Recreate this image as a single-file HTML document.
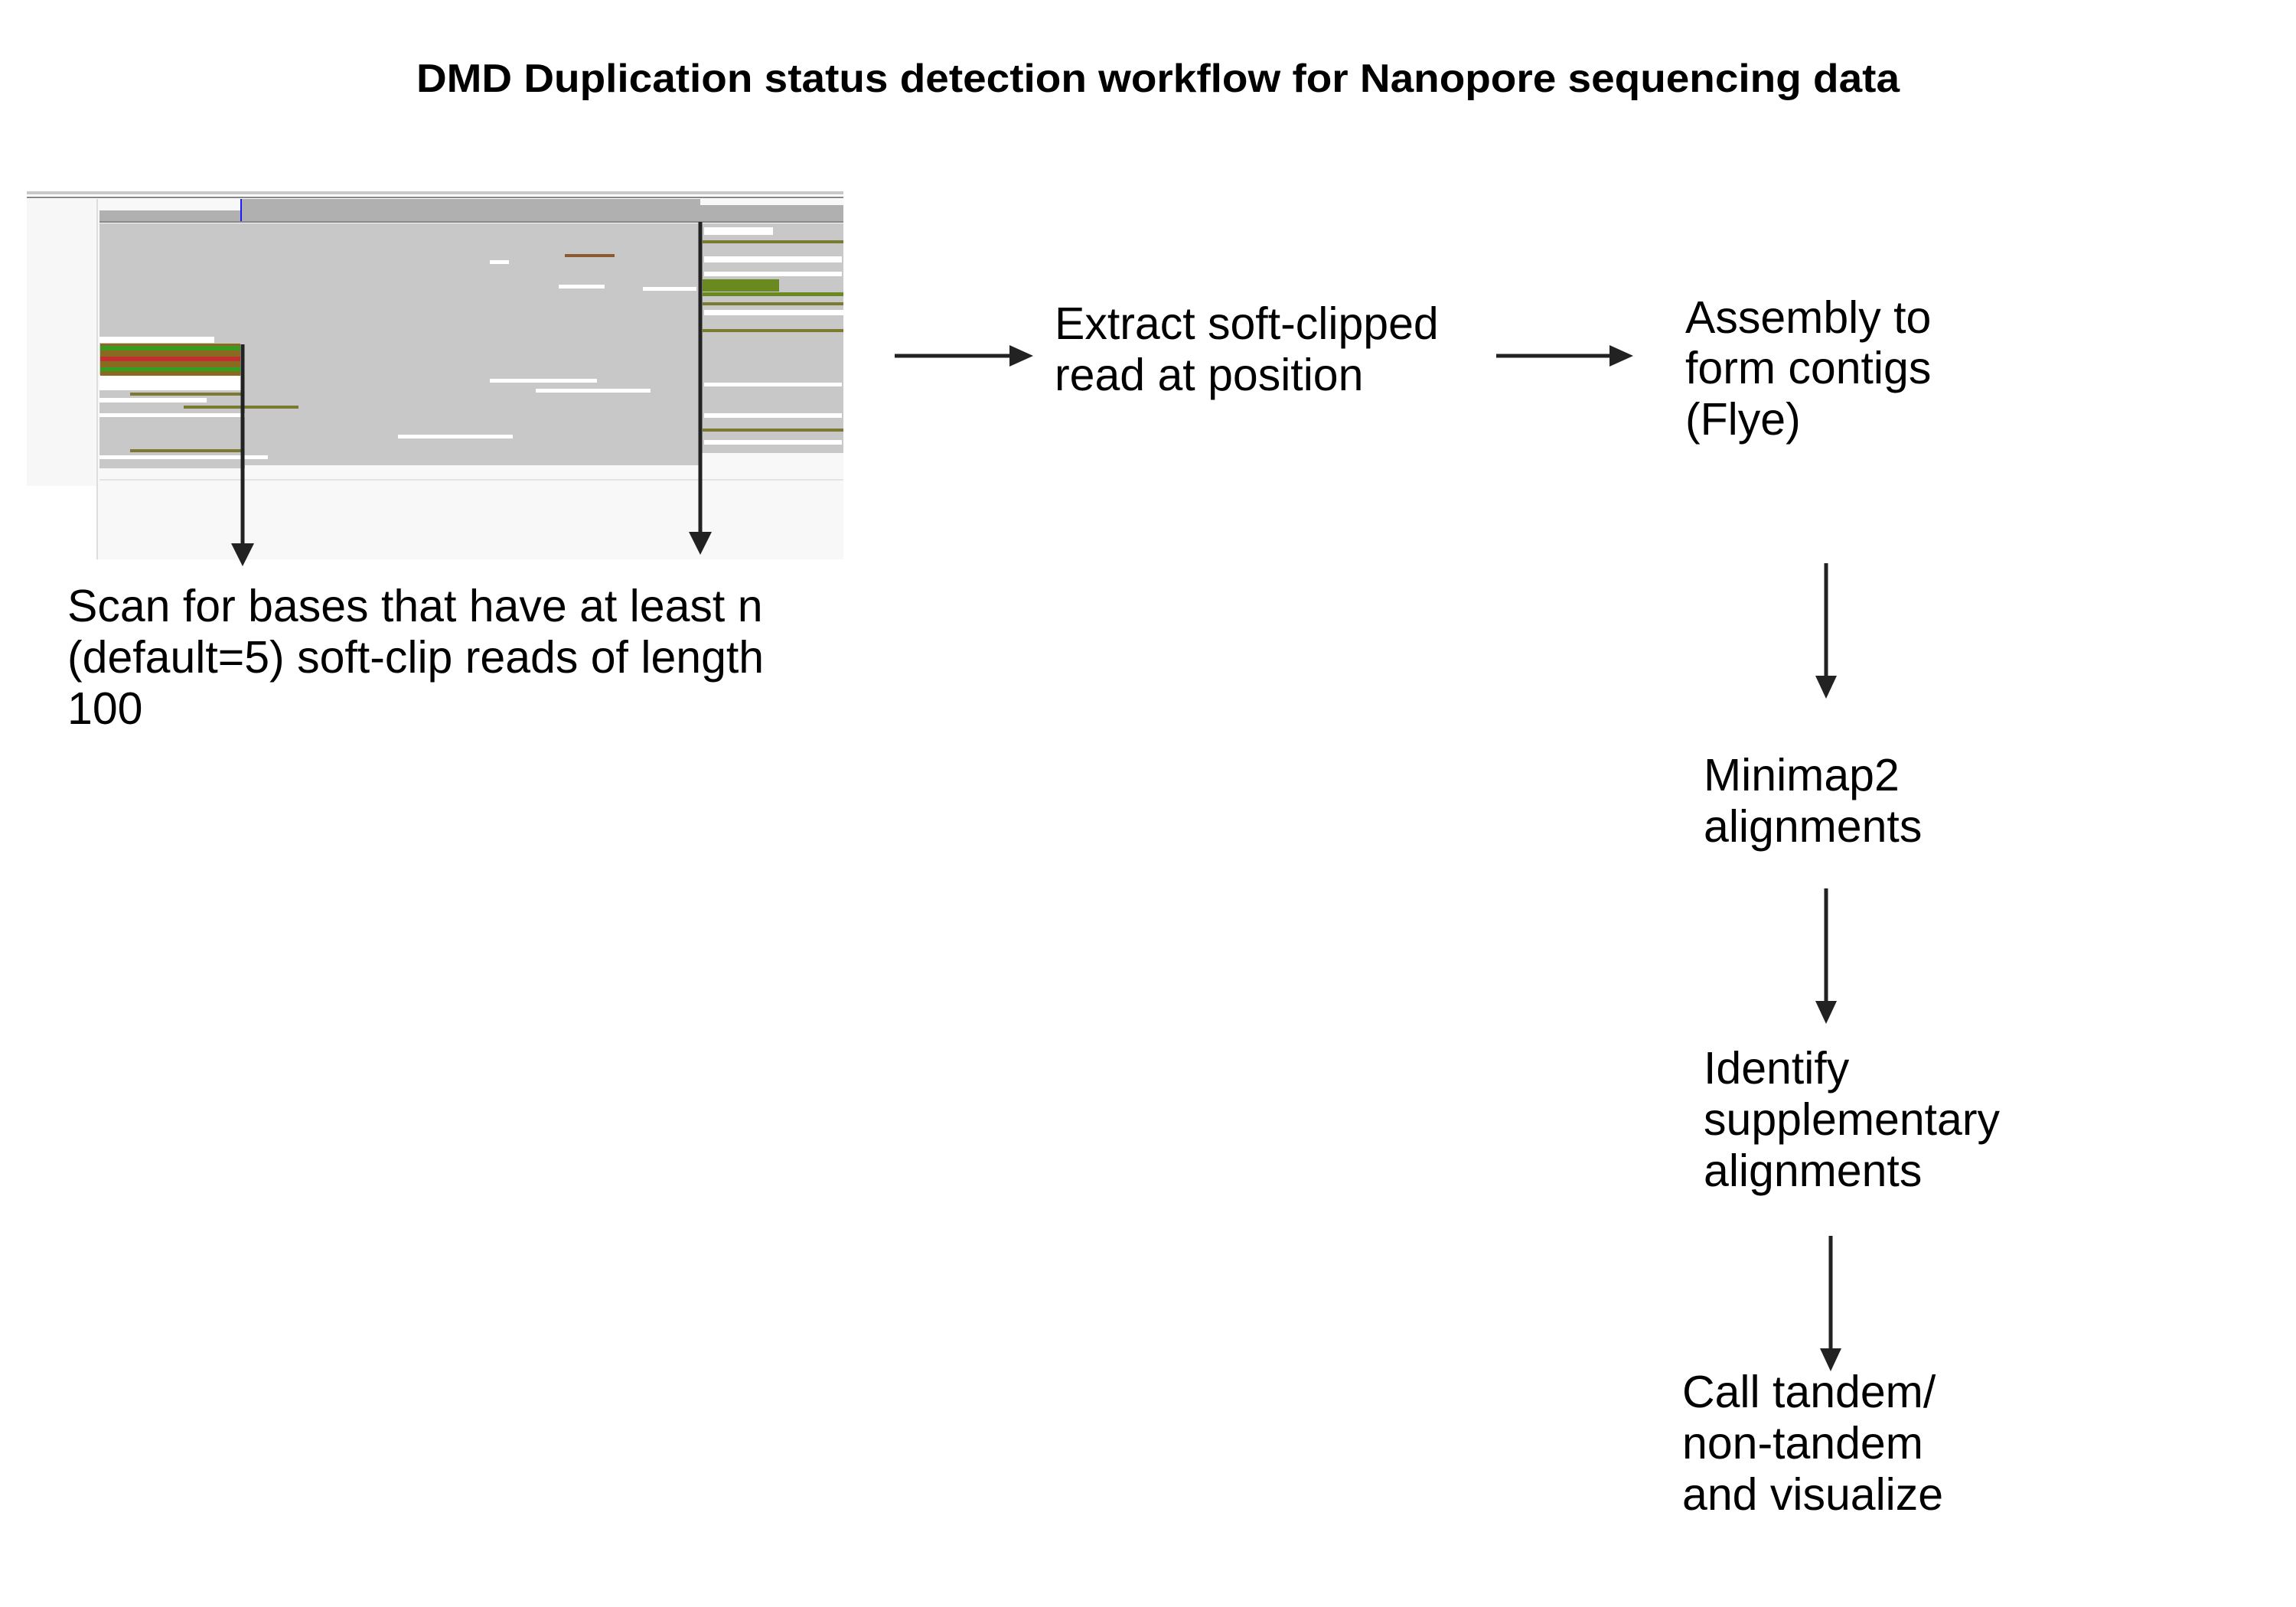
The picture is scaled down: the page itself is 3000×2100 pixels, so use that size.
<!DOCTYPE html>
<html><head><meta charset="utf-8"><style>
html,body{margin:0;padding:0;background:#fff}
svg{display:block}
text{font-family:"Liberation Sans",sans-serif;fill:#000}
</style></head><body>
<svg width="3000" height="2100" viewBox="0 0 3000 2100" xmlns="http://www.w3.org/2000/svg">
<text x="1513" y="120" text-anchor="middle" font-size="52" font-weight="bold" textLength="1938" lengthAdjust="spacingAndGlyphs">DMD Duplication status detection workflow for Nanopore sequencing data</text>

<!-- IGV panel -->
<g>
<rect x="35" y="250" width="1067" height="4" fill="#c8c8c8"/>
<rect x="35" y="257" width="1067" height="2" fill="#888"/>
<rect x="35" y="260" width="92" height="375" fill="#f7f7f7"/>
<rect x="127" y="260" width="975" height="471" fill="#f8f8f8"/>
<rect x="126" y="260" width="2" height="471" fill="#ddd"/>
<rect x="130" y="275" width="185" height="14" fill="#b0b0b0"/>
<rect x="315" y="260" width="600" height="29" fill="#b0b0b0"/>
<rect x="915" y="268" width="187" height="21" fill="#b0b0b0"/>
<rect x="130" y="289" width="972" height="2" fill="#888"/>
<rect x="314" y="260" width="2" height="29" fill="#1a1aff"/>
<rect x="130" y="292" width="787" height="320" fill="#c8c8c8"/>
<rect x="917" y="292" width="185" height="300" fill="#c8c8c8"/>
<rect x="130" y="440" width="150" height="8" fill="#fff"/>
<rect x="130" y="490" width="185" height="20" fill="#fff"/>
<rect x="130" y="520" width="140" height="6" fill="#fff"/>
<rect x="130" y="540" width="190" height="5" fill="#fff"/>
<rect x="130" y="595" width="220" height="5" fill="#fff"/>
<rect x="320" y="608" width="600" height="12" fill="#f8f8f8"/>
<rect x="640" y="495" width="140" height="5" fill="#fff"/>
<rect x="700" y="508" width="150" height="5" fill="#fff"/>
<rect x="520" y="568" width="150" height="5" fill="#fff"/>
<rect x="920" y="297" width="90" height="10" fill="#fff"/>
<rect x="920" y="335" width="180" height="8" fill="#fff"/>
<rect x="920" y="355" width="180" height="6" fill="#fff"/>
<rect x="920" y="405" width="182" height="7" fill="#fff"/>
<rect x="920" y="500" width="180" height="5" fill="#fff"/>
<rect x="920" y="540" width="180" height="6" fill="#fff"/>
<rect x="920" y="575" width="180" height="6" fill="#fff"/>
<rect x="840" y="375" width="70" height="5" fill="#fff"/>
<rect x="640" y="340" width="25" height="5" fill="#fff"/>
<rect x="730" y="372" width="60" height="5" fill="#fff"/>
<rect x="131" y="449" width="183" height="42" fill="#8a6a20"/>
<rect x="131" y="452" width="183" height="6" fill="#3a9a20"/>
<rect x="131" y="466" width="183" height="6" fill="#c03030"/>
<rect x="131" y="480" width="183" height="5" fill="#30a020"/>
<rect x="170" y="513" width="145" height="4" fill="#7a7a30"/>
<rect x="240" y="530" width="150" height="4" fill="#7a7a30"/>
<rect x="170" y="587" width="145" height="4" fill="#7a7a30"/>
<rect x="738" y="332" width="65" height="4" fill="#8a5a30"/>
<rect x="918" y="365" width="100" height="16" fill="#6a8a20"/>
<rect x="918" y="382" width="184" height="5" fill="#6a8a20"/>
<rect x="918" y="314" width="184" height="4" fill="#7a7a30"/>
<rect x="918" y="395" width="184" height="4" fill="#7a7a30"/>
<rect x="918" y="430" width="184" height="4" fill="#7a7a30"/>
<rect x="918" y="560" width="184" height="4" fill="#7a7a30"/>
<rect x="130" y="626" width="972" height="2" fill="#e4e4e4"/>
</g>
<line x1="317" y1="450" x2="317" y2="718" stroke="#222" stroke-width="5"/>
<polygon points="302,710 332,710 317,740" fill="#222"/>
<line x1="915" y1="290" x2="915" y2="703" stroke="#222" stroke-width="5"/>
<polygon points="900,695 930,695 915,725" fill="#222"/>

<line x1="1169" y1="465" x2="1324" y2="465" stroke="#222" stroke-width="5"/>
<polygon points="1319,451 1350,465 1319,479" fill="#222"/>
<line x1="1955" y1="465" x2="2108" y2="465" stroke="#222" stroke-width="5"/>
<polygon points="2103,451 2134,465 2103,479" fill="#222"/>

<line x1="2386" y1="736" x2="2386" y2="888" stroke="#222" stroke-width="5"/>
<polygon points="2372,883 2400,883 2386,913" fill="#222"/>
<line x1="2386" y1="1161" x2="2386" y2="1313" stroke="#222" stroke-width="5"/>
<polygon points="2372,1308 2400,1308 2386,1338" fill="#222"/>
<line x1="2392" y1="1615" x2="2392" y2="1767" stroke="#222" stroke-width="5"/>
<polygon points="2378,1762 2406,1762 2392,1792" fill="#222"/>

<g font-size="59">
<text x="88" y="812">Scan for bases that have at least n</text>
<text x="88" y="879">(default=5) soft-clip reads of length</text>
<text x="88" y="946">100</text>
<text x="1378" y="443">Extract soft-clipped</text>
<text x="1378" y="510">read at position</text>
<text x="2202" y="435">Assembly to</text>
<text x="2202" y="501">form contigs</text>
<text x="2202" y="568">(Flye)</text>
<text x="2226" y="1033">Minimap2</text>
<text x="2226" y="1100">alignments</text>
<text x="2226" y="1416">Identify</text>
<text x="2226" y="1483">supplementary</text>
<text x="2226" y="1550">alignments</text>
<text x="2198" y="1839">Call tandem/</text>
<text x="2198" y="1906">non-tandem</text>
<text x="2198" y="1973">and visualize</text>
</g>
</svg>
</body></html>
